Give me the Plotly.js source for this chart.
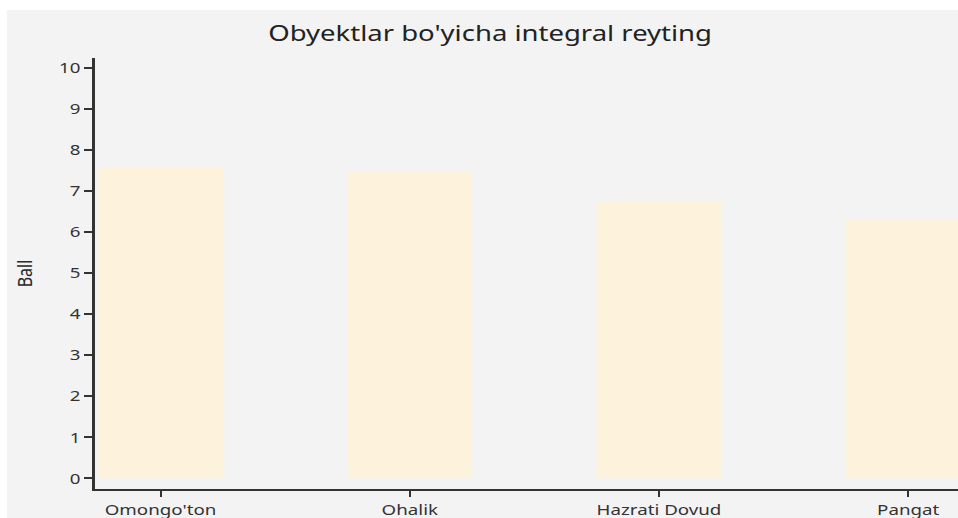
<!DOCTYPE html>
<html>
<head>
<meta charset="utf-8">
<script src="https://cdn.plot.ly/plotly-3.0.1.min.js"></script>
<style>
html,body{margin:0;padding:0;background:#ffffff;overflow:hidden;width:958px;height:518px;}
#wrap{position:absolute;left:0;top:0;width:958px;height:518px;overflow:hidden;}
#chart{position:absolute;left:7px;top:10px;width:773px;height:540px;transform:scaleX(1.25);transform-origin:0 0;}
</style>
</head>
<body>
<div id="wrap"><div id="chart"></div></div>
<script>
const categories = ["Omongo'ton", "Ohalik", "Hazrati Dovud", "Pangat"];
const values = [7.57, 7.46, 6.75, 6.30];
const yTicks = [0, 1, 2, 3, 4, 5, 6, 7, 8, 9, 10];
const titleText = "Obyektlar bo'yicha integral reyting";
const yTitle = "Ball";

const trace = {
  type: 'bar',
  x: categories,
  y: values,
  marker: {color: '#fdf2dc', line: {width: 0}},
  hoverinfo: 'none'
};

const layout = {
  width: 773,
  height: 540,
  paper_bgcolor: '#f3f3f3',
  plot_bgcolor: '#f3f3f3',
  font: {family: 'Noto Sans, Open Sans, sans-serif', color: '#333'},
  title: {text: titleText, font: {size: 22, color: '#222'}, x: 0.5, xanchor: 'center', y: 0.957, yanchor: 'middle'},
  margin: {l: 70, r: 0, t: 48, b: 61},
  bargap: 0.5,
  showlegend: false,
  xaxis: {
    type: 'category',
    range: [-0.265, 3.261],
    showline: true, linecolor: '#333', linewidth: 2,
    ticks: 'outside', ticklen: 6, tickwidth: 1.6, tickcolor: '#333',
    showgrid: false, zeroline: false,
    tickfont: {size: 15, color: '#333'}
  },
  yaxis: {
    range: [-0.26, 10.24],
    tickvals: yTicks,
    showline: true, linecolor: '#333', linewidth: 1.8,
    ticks: 'outside', ticklen: 6.5, tickwidth: 2, tickcolor: '#333',
    showgrid: false, zeroline: false,
    tickfont: {size: 15, color: '#333'},
    title: {text: yTitle, font: {size: 16, color: '#2a2a2a'}, standoff: 17}
  }
};

Plotly.newPlot('chart', [trace], layout, {displayModeBar: false, staticPlot: true});
</script>
</body>
</html>
